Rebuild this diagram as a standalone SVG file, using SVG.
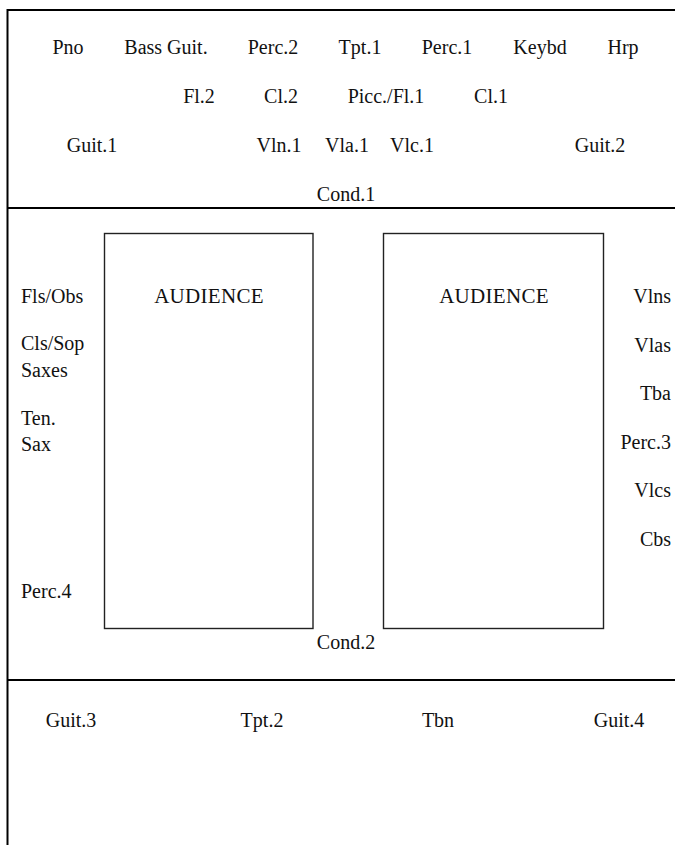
<svg xmlns="http://www.w3.org/2000/svg" width="675" height="845" viewBox="0 0 675 845">
<style>
text{font-family:'Liberation Serif','Times New Roman',serif;font-size:20px;fill:#111}
.c{text-anchor:middle}
.r{text-anchor:end}
.aud{font-size:21px;letter-spacing:0.3px}
.frame{fill:none;stroke:#000;stroke-width:2}
.box{fill:#fff;stroke:#222;stroke-width:1.4}
</style>
<rect width="675" height="845" fill="#fff"/>
<g id="frame">
<path class="frame" d="M7.5,845 V10 H675"/>
<line class="frame" x1="7" y1="208" x2="675" y2="208"/>
<line class="frame" x1="7" y1="680" x2="675" y2="680"/>
</g>
<g id="audience-left"><rect class="box" x="104.5" y="233.5" width="208.5" height="395"/><text class="c aud" x="209" y="303">AUDIENCE</text></g>
<g id="audience-right"><rect class="box" x="383.5" y="233.5" width="220" height="395"/><text class="c aud" x="494" y="303">AUDIENCE</text></g>
<g id="stage-top">
<text class="c" x="68" y="54">Pno</text>
<text class="c" x="166" y="54">Bass Guit.</text>
<text class="c" x="273" y="54">Perc.2</text>
<text class="c" x="360" y="54">Tpt.1</text>
<text class="c" x="447" y="54">Perc.1</text>
<text class="c" x="540" y="54">Keybd</text>
<text class="c" x="623" y="54">Hrp</text>
<text class="c" x="199" y="103">Fl.2</text>
<text class="c" x="281" y="103">Cl.2</text>
<text class="c" x="386" y="103">Picc./Fl.1</text>
<text class="c" x="491" y="103">Cl.1</text>
<text class="c" x="92" y="152">Guit.1</text>
<text class="c" x="279" y="152">Vln.1</text>
<text class="c" x="347" y="152">Vla.1</text>
<text class="c" x="412" y="152">Vlc.1</text>
<text class="c" x="600" y="152">Guit.2</text>
<text class="c" x="346" y="201">Cond.1</text>
</g>
<g id="left-side">
<text x="21" y="303">Fls/Obs</text>
<text x="21" y="350">Cls/Sop</text>
<text x="21" y="377">Saxes</text>
<text x="21" y="425">Ten.</text>
<text x="21" y="451">Sax</text>
<text x="21" y="598">Perc.4</text>
</g>
<g id="right-side">
<text class="r" x="671" y="303">Vlns</text>
<text class="r" x="671" y="352">Vlas</text>
<text class="r" x="671" y="400">Tba</text>
<text class="r" x="671" y="449">Perc.3</text>
<text class="r" x="671" y="497">Vlcs</text>
<text class="r" x="671" y="546">Cbs</text>
</g>
<g id="cond2"><text class="c" x="346" y="649">Cond.2</text></g>
<g id="stage-bottom">
<text class="c" x="71" y="727">Guit.3</text>
<text class="c" x="262" y="727">Tpt.2</text>
<text class="c" x="438" y="727">Tbn</text>
<text class="c" x="619" y="727">Guit.4</text>
</g>
</svg>
